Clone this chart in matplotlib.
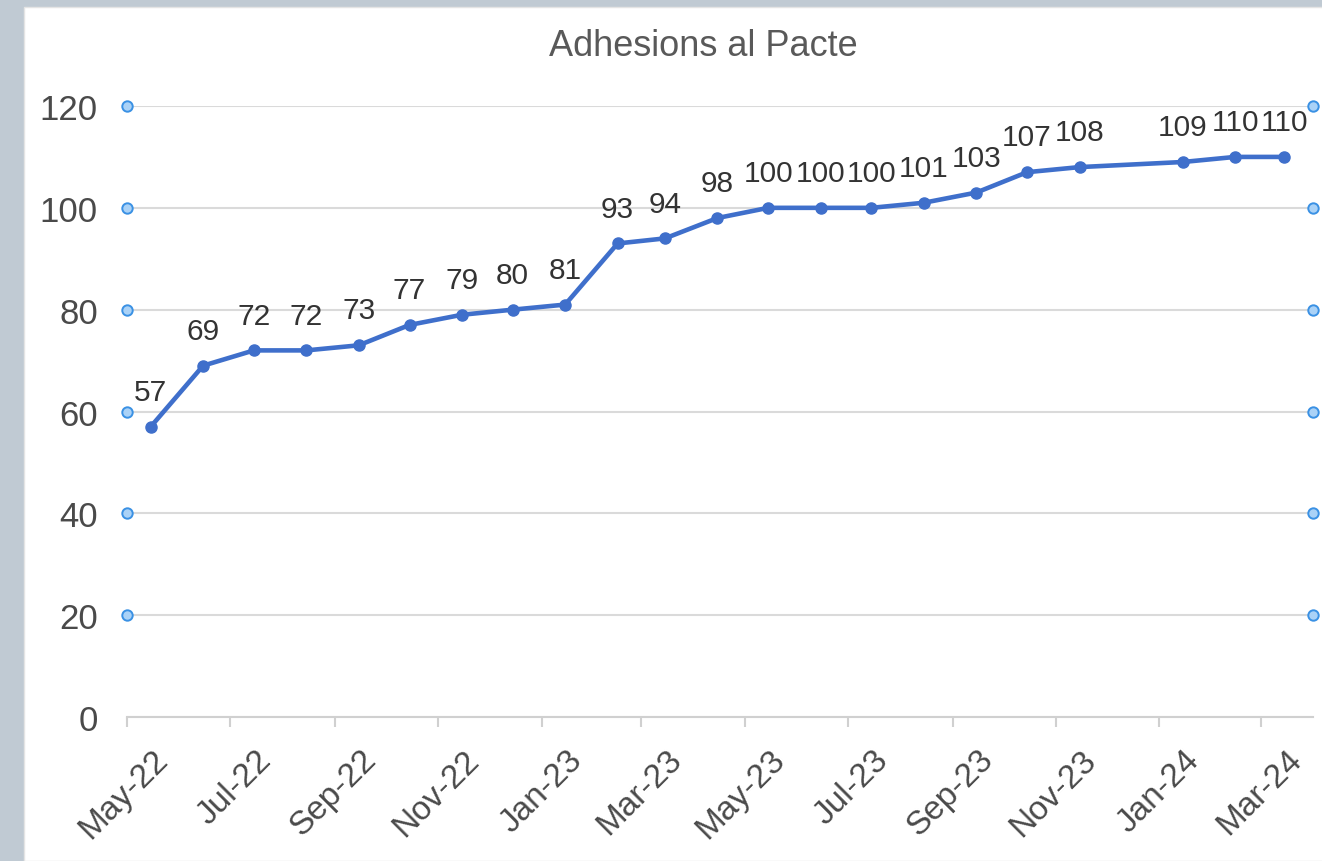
import datetime as dt

import matplotlib
matplotlib.use('Agg')
import matplotlib.dates as mdates
import matplotlib.pyplot as plt
from matplotlib.patches import Rectangle
from matplotlib.transforms import ScaledTranslation

plt.rcParams['font.family'] = ['Liberation Sans', 'DejaVu Sans']

# Chart data
TITLE = 'Adhesions al Pacte'
DATES = ['2022-05-15', '2022-06-15', '2022-07-15', '2022-08-15', '2022-09-15',
         '2022-10-15', '2022-11-15', '2022-12-15', '2023-01-15', '2023-02-15',
         '2023-03-15', '2023-04-15', '2023-05-15', '2023-06-15', '2023-07-15',
         '2023-08-15', '2023-09-15', '2023-10-15', '2023-11-15', '2024-01-15',
         '2024-02-15', '2024-03-15']
VALUES = [57, 69, 72, 72, 73, 77, 79, 80, 81, 93, 94, 98, 100, 100, 100,
          101, 103, 107, 108, 109, 110, 110]
Y_TICKS = [0, 20, 40, 60, 80, 100, 120]
X_START = '2022-05-01'
X_END = '2024-04-01'

W, H = 1322, 862
LINE_COLOR = '#3f6fcb'
GRID_COLOR = '#dadada'

dates = [dt.date.fromisoformat(d) for d in DATES]
x0 = dt.date.fromisoformat(X_START)
x1 = dt.date.fromisoformat(X_END)

fig = plt.figure(figsize=(W / 100, H / 100), dpi=100, facecolor='#c0cad3')

# white chart panel over the grey frame
fig.patches.append(Rectangle((24 / W, 0), 1, 1 - 8 / H, transform=fig.transFigure,
                             facecolor='white', edgecolor='#e4e4e4', lw=1, zorder=-1))

ax = fig.add_axes([127 / W, 1 - 718 / H, (1313 - 127) / W, (718 - 107) / H])
ax.set_facecolor('none')

ax.plot(dates, VALUES, color=LINE_COLOR, lw=3.3, marker='o', markersize=8,
        markerfacecolor=LINE_COLOR, markeredgecolor=LINE_COLOR, zorder=4, clip_on=False)

for d, v in zip(dates, VALUES):
    ax.annotate(str(v), (d, v), xytext=(0, 15), textcoords='offset points',
                ha='center', va='bottom', fontsize=21.5, color='#333333',
                annotation_clip=False, zorder=5)

ax.set_xlim(x0, x1)
ax.set_ylim(Y_TICKS[0], Y_TICKS[-1])
ax.set_yticks(Y_TICKS)

ax.xaxis.set_major_locator(mdates.MonthLocator(bymonth=[1, 3, 5, 7, 9, 11]))
ax.xaxis.set_major_formatter(mdates.DateFormatter('%b-%y'))

ax.grid(True, axis='y', color=GRID_COLOR, lw=1.5, zorder=1)
ax.set_axisbelow(True)
for side in ['top', 'right', 'left']:
    ax.spines[side].set_visible(False)
ax.spines['bottom'].set_color('#d0d0d0')
ax.spines['bottom'].set_linewidth(1.5)

ax.tick_params(axis='y', length=0, pad=21, labelsize=25, labelcolor='#4a4a4a')
ax.tick_params(axis='x', length=7, width=1.5, color='#d0d0d0', direction='out',
               pad=2, labelsize=24, labelcolor='#4a4a4a')
shift = ScaledTranslation(36 / 100, -25 / 100, fig.dpi_scale_trans)
for lab in ax.get_xticklabels():
    lab.set_rotation(45)
    lab.set_ha('right')
    lab.set_va('center')
    lab.set_rotation_mode('anchor')
    lab.set_transform(lab.get_transform() + shift)

# selection handles at both ends of the gridlines
handle_y = Y_TICKS[1:]
for hx in (x0, x1):
    ax.plot([hx] * len(handle_y), handle_y, ls='none', marker='o', markersize=7.5,
            markerfacecolor='#aad2f7', markeredgecolor='#3a91e4', markeredgewidth=1.4,
            clip_on=False, zorder=6)

fig.text(703 / W, 1 - 47 / H, TITLE, ha='center', va='center',
         fontsize=26, color='#595959')

fig.savefig('out.png', dpi=100)
